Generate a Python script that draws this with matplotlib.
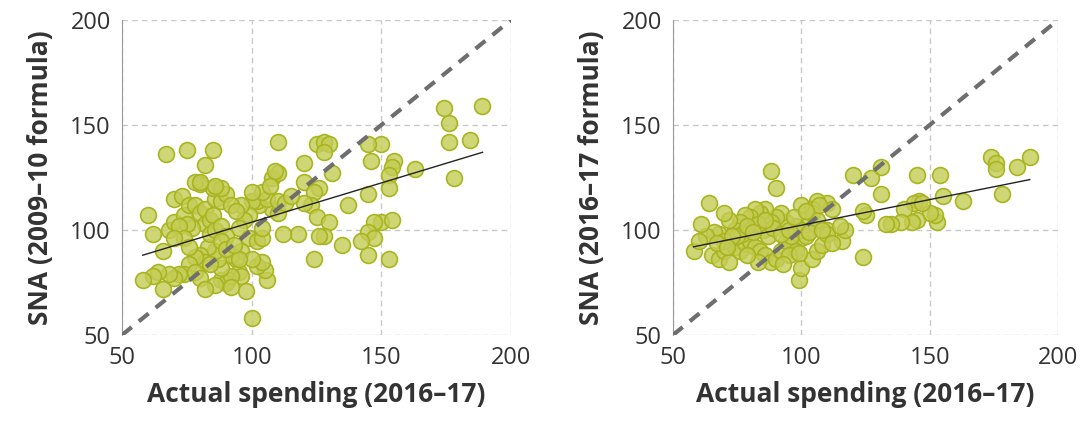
import numpy as np
import matplotlib
matplotlib.use("Agg")
import matplotlib.pyplot as plt

plt.rcParams['font.family'] = ['Open Sans', 'DejaVu Sans']

left_pts = [(174,158),(189,159),(176,151),(176,142),(184,143),(178,125),(163,129),(155,133),(154,130),(153,126),(153,120),(150,141),(145,141),(146,133),(145,117),(137,112),(150,104),(147,104),(154,105),(145,99),(147,96),(145,88),(153,86),(142,95),(135,93),(125,141),(128,142),(130,141),(128,137),(120,132),(110,142),(131,127),(120,123),(126,120),(124,118),(123,112),(120,113),(125,106),(130,104),(128,97),(126,97),(118,98),(124,86),(112,98),(108,110),(110,108),(103,112),(102,114),(106,115),(110,114),(113,113),(115,116),(100,114),(104,118),(108,125),(110,127),(109,128),(107,121),(100,118),(99,107),(96,112),(97,105),(95,101),(99,96),(102,95),(104,96),(104,101),(96,90),(94,86),(92,88),(95,80),(96,78),(91,76),(88,76),(90,75),(92,78),(98,71),(100,58),(106,76),(105,81),(102,83),(104,85),(100,86),(95,86),(88,82),(87,86),(86,90),(83,92),(80,88),(82,85),(78,87),(76,84),(74,79),(72,79),(70,77),(68,79),(66,72),(64,80),(62,78),(58,76),(60,107),(62,98),(66,90),(68,100),(70,104),(70,115),(73,116),(74,107),(76,112),(78,112),(80,108),(82,110),(82,103),(84,105),(85,107),(86,115),(88,114),(90,117),(92,112),(94,109),(85,120),(88,120),(80,122),(78,123),(82,131),(86,121),(80,123),(84,98),(86,100),(88,102),(90,97),(77,101),(75,103),(72,102),(74,96),(85,138),(75,138),(67,136),(88,95),(90,91),(93,93),(84,84),(78,80),(80,77),(86,74),(82,72),(92,73),(76,92),(70,96)]
right_pts = [(174,135),(176,132),(176,129),(178,117),(184,130),(189,135),(163,114),(155,116),(154,126),(153,104),(152,107),(150,108),(146,114),(145,126),(144,113),(147,113),(145,105),(143,104),(140,110),(139,104),(135,103),(133,103),(131,117),(131,130),(127,125),(125,107),(124,109),(120,126),(124,87),(116,95),(117,100),(110,100),(110,113),(112,110),(106,114),(104,110),(103,103),(104,108),(106,105),(100,112),(100,96),(98,102),(96,92),(94,104),(92,108),(90,106),(88,128),(88,104),(90,120),(86,110),(84,108),(82,110),(80,106),(78,107),(76,104),(74,100),(72,105),(70,108),(68,98),(66,99),(64,113),(63,97),(61,103),(58,90),(60,95),(65,88),(68,86),(70,90),(72,85),(74,92),(76,90),(78,94),(80,95),(82,92),(84,90),(86,88),(88,85),(90,86),(92,90),(94,95),(96,97),(98,90),(99,76),(100,82),(95,88),(104,86),(106,90),(108,93),(110,98),(112,94),(100,100),(102,97),(85,100),(80,100),(77,98),(75,97),(83,103),(87,97),(89,101),(92,98),(70,95),(67,94),(73,97),(79,102),(81,99),(86,105),(95,100),(97,106),(103,99),(108,100),(115,102),(99,89),(93,84),(83,85),(79,88),(71,92),(107,112),(102,109)]

# fitted trend line endpoints
left_fit_x = [58, 189]; left_fit_y = [88, 137]
right_fit_x = [58, 189]; right_fit_y = [92, 124]

ticks = [50, 100, 150, 200]
ylabels = ["SNA (2009\u201310 formula)", "SNA (2016\u201317 formula)"]
xlabel = "Actual spending (2016\u201317)"

fig = plt.figure(figsize=(10.86, 4.24), dpi=100)
axes = [fig.add_axes([122/1086, 1-335/424, 389/1086, 315/424]),
        fig.add_axes([673/1086, 1-335/424, 385/1086, 315/424])]
for ax, pts, fx, fy, yl in zip(axes, [left_pts, right_pts],
                               [left_fit_x, right_fit_x], [left_fit_y, right_fit_y], ylabels):
    x = [p[0] for p in pts]; y = [p[1] for p in pts]
    ax.set_xlim(50, 200); ax.set_ylim(50, 200)
    ax.grid(True, ls=(0, (4, 3)), color='#c8c8c8', lw=1)
    ax.set_axisbelow(True)
    ax.plot([50, 200], [50, 200], ls=(0, (3, 2.2)), color='#6e6e6e', lw=3, zorder=3)
    ax.scatter(x, y, s=130, facecolor=(0.77, 0.80, 0.33, 0.8), edgecolor='#a9b520', lw=1.2, zorder=2)
    ax.plot(fx, fy, color='#222222', lw=1, zorder=4)
    ax.set_xticks(ticks); ax.set_yticks(ticks)
    ax.tick_params(labelsize=17, length=0, colors='#333333', pad=8)
    for s in ['top', 'right', 'bottom']:
        ax.spines[s].set_visible(False)
    ax.spines['left'].set_color('#999999')
    ax.set_ylabel(yl, fontsize=19, fontweight='bold', color='#333333', labelpad=12)
    ax.set_xlabel(xlabel, fontsize=19, fontweight='bold', color='#333333', labelpad=8)
fig.savefig("out.png", dpi=100)
